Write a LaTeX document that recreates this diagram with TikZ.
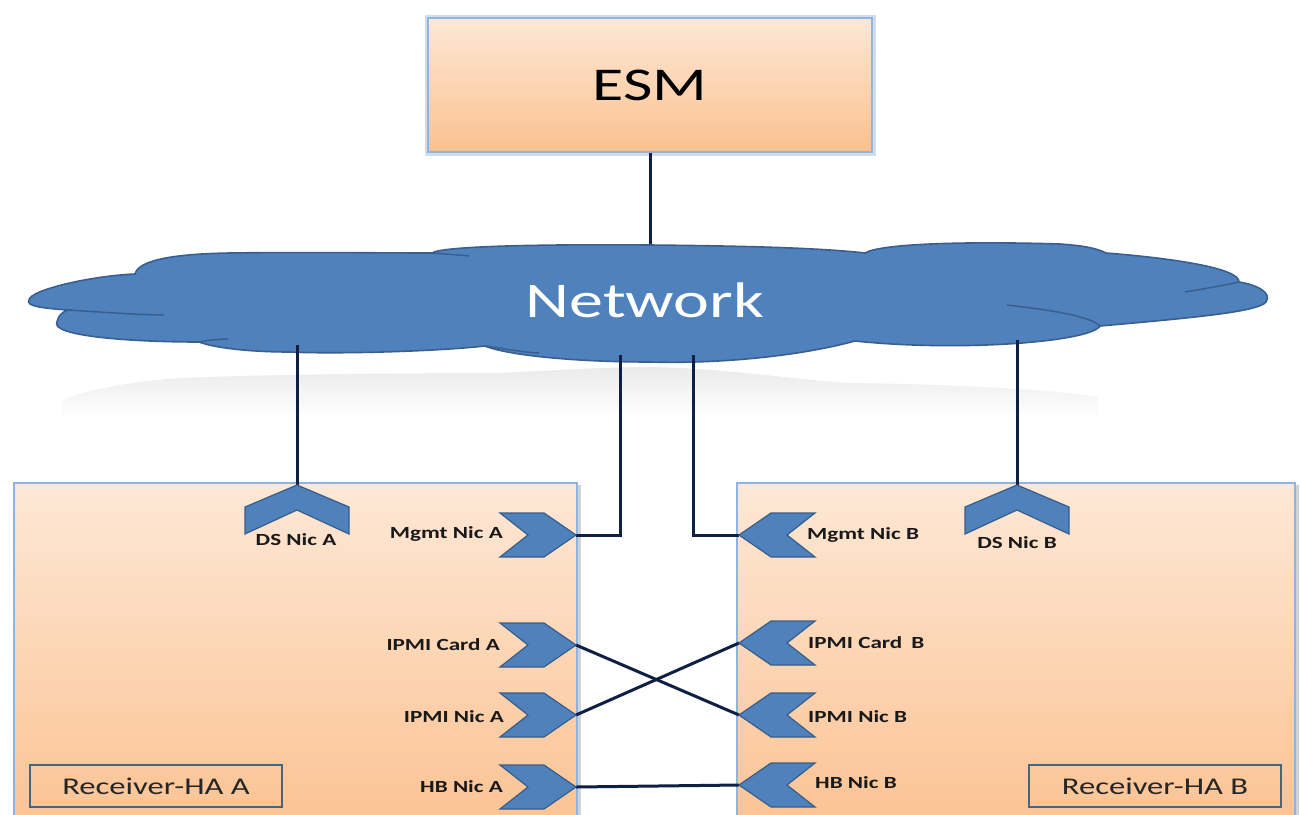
\documentclass[tikz,border=0pt]{standalone}
\usepackage{fontspec}
\setmainfont{Carlito}
\usetikzlibrary{shadows}
\definecolor{peachT}{HTML}{FDE8D6}
\definecolor{peachB}{HTML}{FBC190}
\definecolor{boxedge}{HTML}{8EB4E3}
\definecolor{cloudfill}{HTML}{4F81BD}
\definecolor{cloudedge}{HTML}{3A5F8E}
\definecolor{wire}{HTML}{0F2044}
\definecolor{chevedge}{HTML}{385D8A}
\definecolor{labelbox}{HTML}{46657F}
\newcommand{\wtxt}[1]{\scalebox{1.36}[1]{#1}}
\newcommand{\chevR}[3]{%
  \draw[chevstyle] (#2,#3-22) -- (#2+44,#3-22) -- (#2+76,#3) -- (#2+44,#3+22) -- (#2,#3+22) -- (#2+28,#3) -- cycle;
  \coordinate (#1) at (#2+76,#3);}
\newcommand{\chevL}[3]{%
  \draw[chevstyle] (#2,#3-22) -- (#2-44,#3-22) -- (#2-76,#3) -- (#2-44,#3+22) -- (#2,#3+22) -- (#2-28,#3) -- cycle;
  \coordinate (#1) at (#2-76,#3);}
\newcommand{\chevU}[3]{%
  \draw[chevstyle] (#2,#3) -- (#2+52,#3+22) -- (#2+52,#3+49) -- (#2,#3+25) -- (#2-52,#3+49) -- (#2-52,#3+22) -- cycle;
  \coordinate (#1) at (#2,#3);}
\tikzset{
  wirestyle/.style={draw=wire, line width=3pt},
  chevstyle/.style={fill=cloudfill, draw=chevedge, line width=1.2pt, line join=miter},
  nic/.style={font=\fontsize{17}{19}\selectfont\bfseries, text=black!90, inner sep=0pt},
  hostbox/.style={top color=peachT, bottom color=peachB, draw=boxedge, line width=2.5pt,
     drop shadow={opacity=0.35, shadow xshift=4pt, shadow yshift=-2pt}},
  esmbox/.style={top color=peachT, bottom color=peachB, draw=boxedge, line width=2.5pt,
     preaction={draw=boxedge!45, line width=7pt},
     minimum width=444pt, minimum height=134pt, inner sep=0pt,
     font=\fontsize{47}{50}\selectfont, text=black},
  rlbl/.style={draw=labelbox, line width=1.8pt, minimum width=252pt, minimum height=42pt,
     inner sep=0pt, font=\fontsize{24}{26}\selectfont, text=black!85},
  lobe/.style={draw=cloudedge, line width=1.5pt}
}
\begin{document}
\begin{tikzpicture}[x=1pt, y=-1pt]
\useasboundingbox (0,0) rectangle (1300,814);
\clip (0,0) rectangle (1300,814);
\fill[white] (0,0) rectangle (1300,814);

% ESM
\node[esmbox] (esm) at (650,85) {\wtxt{ESM}};

% reflection under cloud
\shade[top color=black!8, bottom color=white]
  (62,400) .. controls (100,385) and (160,378) .. (207,377)
  .. controls (300,374) and (420,373) .. (498,373)
  .. controls (560,370) and (610,367) .. (650,367)
  .. controls (720,368) and (800,380) .. (849,383)
  .. controls (950,384) and (1060,390) .. (1098,397)
  -- (1098,418) -- (62,418) -- cycle;

% network attachment points
\coordinate (net0) at (650,255);
\coordinate (net1) at (297,345);
\coordinate (net2) at (620,355);
\coordinate (net3) at (693,355);
\coordinate (net4) at (1017,340);

\draw[wirestyle] (esm.south) -- (net0);
\draw[wirestyle] (net1) -- (297,400);
\draw[wirestyle] (net2) -- (620,400);
\draw[wirestyle] (net3) -- (693,400);
\draw[wirestyle] (net4) -- (1017,400);

% cloud
\draw[fill=cloudfill, draw=cloudedge, line width=1.6pt]
  (29,300)
  .. controls (30,290) and (90,276) .. (135,274)
  .. controls (138,262) and (165,254) .. (230,253)
  .. controls (300,252) and (380,253) .. (432,253)
  .. controls (440,247) and (520,244) .. (650,245)
  .. controls (750,246) and (820,248) .. (865,253)
  .. controls (880,244) and (960,241) .. (1060,244)
  .. controls (1090,246) and (1100,250) .. (1106,253)
  .. controls (1170,258) and (1240,268) .. (1239,282)
  .. controls (1258,285) and (1272,293) .. (1266,302)
  .. controls (1258,312) and (1190,318) .. (1100,326)
  .. controls (1090,342) and (960,352) .. (855,341)
  .. controls (800,356) and (720,364) .. (650,362)
  .. controls (580,362) and (510,356) .. (485,346)
  .. controls (430,352) and (330,354) .. (290,352)
  .. controls (250,352) and (215,348) .. (199,342)
  .. controls (130,342) and (50,336) .. (57,322)
  .. controls (58,316) and (62,312) .. (68,310)
  .. controls (40,308) and (26,306) .. (29,300) -- cycle;
\draw[lobe] (68,310) .. controls (100,312) and (140,315) .. (164,315);
\draw[lobe] (199,342) .. controls (210,340) and (220,339) .. (228,339);
\draw[lobe] (485,346) .. controls (500,348) and (520,352) .. (539,353);
\draw[lobe] (432,253) .. controls (445,254) and (460,255) .. (469,256);
\draw[lobe] (1007,305) .. controls (1050,310) and (1090,316) .. (1100,326);
\draw[lobe] (1185,292) .. controls (1210,288) and (1230,284) .. (1239,282);
\node[text=white, font=\fontsize{50}{52}\selectfont, inner sep=0pt] (net) at (645,300) {\wtxt{Network}};

% hosts
\path[hostbox] (14,483) rectangle (577,840);
\path[hostbox] (737,483) rectangle (1295,840);

\node[rlbl] (rA) at (156,786) {\wtxt{Receiver-HA A}};
\node[rlbl] (rB) at (1155,786) {\wtxt{Receiver-HA B}};

% connectors
\coordinate (dsA) at (297,485);
\coordinate (dsB) at (1017,485);
\coordinate (mgA) at (576,535);
\coordinate (mgB) at (739,535);
\coordinate (ipcA) at (576,645);
\coordinate (ipnA) at (576,715);
\coordinate (hbA) at (576,787);
\coordinate (ipcB) at (739,643);
\coordinate (ipnB) at (739,715);
\coordinate (hbB) at (739,785);

\draw[wirestyle] (net1) -- (dsA);
\draw[wirestyle] (net4) -- (dsB);
\draw[wirestyle] (net2) |- (mgA);
\draw[wirestyle] (net3) |- (mgB);
\draw[wirestyle] (ipcA) -- (ipnB);
\draw[wirestyle] (ipnA) -- (ipcB);
\draw[wirestyle] (hbA) -- (hbB);

% chevrons
\chevU{cdsA}{297}{485}
\chevU{cdsB}{1017}{485}
\chevR{cmgA}{500}{535}
\chevR{cipcA}{500}{645}
\chevR{cipnA}{500}{715}
\chevR{chbA}{500}{787}
\chevL{cmgB}{815}{535}
\chevL{cipcB}{815}{643}
\chevL{cipnB}{815}{715}
\chevL{chbB}{815}{785}

% labels
\node[nic] (ldsA) at (296,540) {\wtxt{DS Nic A}};
\node[nic] (ldsB) at (1017,543) {\wtxt{DS Nic B}};
\node[nic, anchor=east] (lmgA) at (503,534) {\wtxt{Mgmt Nic A}};
\node[nic, anchor=east] (lipcA) at (500,645) {\wtxt{IPMI Card A}};
\node[nic, anchor=east] (lipnA) at (504,717) {\wtxt{IPMI Nic A}};
\node[nic, anchor=east] (lhbA) at (503,787) {\wtxt{HB Nic A}};
\node[nic, anchor=west] (lmgB) at (807,535) {\wtxt{Mgmt Nic B}};
\node[nic, anchor=west] (lipcB) at (808,643) {\wtxt{IPMI Card\, B}};
\node[nic, anchor=west] (lipnB) at (808,717) {\wtxt{IPMI Nic B}};
\node[nic, anchor=west] (lhbB) at (815,783) {\wtxt{HB Nic B}};
\end{tikzpicture}
\end{document}
